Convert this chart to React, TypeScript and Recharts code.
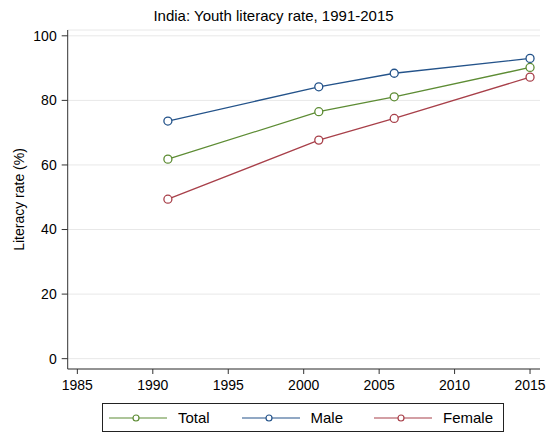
import { LineChart, Line, XAxis, YAxis, CartesianGrid, Legend } from "recharts";

const years = [1991, 2001, 2006, 2015];
const total = [61.8, 76.5, 81.1, 90.2];
const male = [73.6, 84.2, 88.4, 93.0];
const female = [49.4, 67.7, 74.4, 87.2];

const xTicks = [1985, 1990, 1995, 2000, 2005, 2010, 2015];
const yTicks = [0, 20, 40, 60, 80, 100];

const title = "India: Youth literacy rate, 1991-2015";
const yTitle = "Literacy rate (%)";

const series = [
  { key: "total", name: "Total", color: "#5d8c34" },
  { key: "male", name: "Male", color: "#24538a" },
  { key: "female", name: "Female", color: "#a8404a" },
];

const rows = years.map((year, i) => ({
  year,
  total: total[i],
  male: male[i],
  female: female[i],
}));

const FONT = "'Liberation Sans', Arial, sans-serif";
const AXIS = "#333333";

function renderLegend() {
  return (
    <div
      style={{
        marginLeft: 102,
        width: 402,
        height: 29,
        boxSizing: "border-box",
        border: "1px solid #222",
        display: "flex",
        alignItems: "center",
        paddingLeft: 6,
        fontFamily: FONT,
        fontSize: 15,
        color: "#000",
        background: "#fff",
      }}
    >
      {series.map((s) => (
        <div
          key={s.key}
          style={{ display: "flex", alignItems: "center", width: 132.5, flexShrink: 0 }}
        >
          <svg width={58} height={10} style={{ marginRight: 11 }}>
            <line x1={0} y1={5} x2={58} y2={5} stroke={s.color} strokeWidth={1.2} />
            <circle cx={27} cy={5} r={3} fill="#fff" stroke={s.color} strokeWidth={1.2} />
          </svg>
          <span>{s.name}</span>
        </div>
      ))}
    </div>
  );
}

export default function App() {
  return (
    <div
      style={{
        position: "absolute",
        left: 0,
        top: 0,
        width: 547,
        height: 433,
        background: "#fff",
        fontFamily: FONT,
      }}
    >
      <div
        style={{
          position: "absolute",
          top: 8,
          left: 0,
          width: 547,
          textAlign: "center",
          fontSize: 15,
          lineHeight: "15px",
          color: "#000",
        }}
      >
        {title}
      </div>
      <LineChart
        width={547}
        height={433}
        data={rows}
        margin={{ top: 30, right: 7, bottom: 1, left: 0 }}
      >
        <CartesianGrid vertical={false} stroke="#e8e8e8" />
        <XAxis
          dataKey="year"
          type="number"
          domain={[1984.36, 2015.66]}
          ticks={xTicks}
          allowDataOverflow
          height={34}
          tickSize={5}
          tickMargin={6}
          axisLine={{ stroke: AXIS }}
          tickLine={{ stroke: AXIS }}
          tick={{ fill: "#000", fontSize: 14, fontFamily: FONT, style: { fontSize: 14 } }}
        />
        <YAxis
          type="number"
          domain={[-3.2, 101.8]}
          ticks={yTicks}
          allowDataOverflow
          width={67.7}
          tickSize={6}
          tickMargin={5}
          axisLine={{ stroke: AXIS }}
          tickLine={{ stroke: AXIS }}
          tick={{ fill: "#000", fontSize: 14, fontFamily: FONT, style: { fontSize: 14 } }}
          label={{
            value: yTitle,
            angle: -90,
            position: "insideLeft",
            offset: 19,
            fill: "#000",
            fontSize: 14,
            fontFamily: FONT,
            style: { textAnchor: "middle", fontSize: 14 },
          }}
        />
        <Legend verticalAlign="bottom" content={renderLegend} wrapperStyle={{ left: 0, width: 547 }} />
        {series.map((s) => (
          <Line
            key={s.key}
            dataKey={s.key}
            name={s.name}
            stroke={s.color}
            strokeWidth={1.3}
            dot={{ r: 4, fill: "#fff", stroke: s.color, strokeWidth: 1.3 }}
            activeDot={false}
            isAnimationActive={false}
          />
        ))}
      </LineChart>
    </div>
  );
}
